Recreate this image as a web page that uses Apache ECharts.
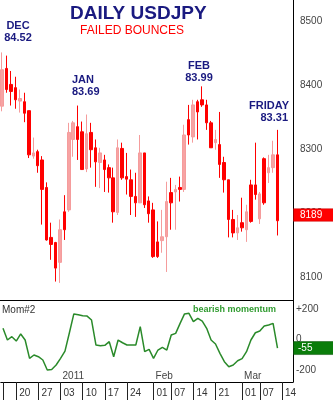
<!DOCTYPE html>
<html><head><meta charset="utf-8">
<script src="https://cdn.jsdelivr.net/npm/echarts@6/dist/echarts.min.js"></script>
<style>html,body{margin:0;padding:0;background:#fff}#c{width:333px;height:400px}</style>
</head><body><div id="c"></div>
<script>
// trading days (last three are empty future slots on the axis)
const dates = [
 '2010-12-15','2010-12-16','2010-12-17','2010-12-20','2010-12-21','2010-12-22','2010-12-23','2010-12-24','2010-12-27','2010-12-28','2010-12-29','2010-12-30','2010-12-31',
 '2011-01-03','2011-01-04','2011-01-05','2011-01-06','2011-01-07','2011-01-10','2011-01-11','2011-01-12','2011-01-13','2011-01-14','2011-01-17','2011-01-18','2011-01-19','2011-01-20','2011-01-21','2011-01-24','2011-01-25','2011-01-26','2011-01-27','2011-01-28','2011-01-31',
 '2011-02-01','2011-02-02','2011-02-03','2011-02-04','2011-02-07','2011-02-08','2011-02-09','2011-02-10','2011-02-11','2011-02-14','2011-02-15','2011-02-16','2011-02-17','2011-02-18','2011-02-21','2011-02-22','2011-02-23','2011-02-24','2011-02-25','2011-02-28',
 '2011-03-01','2011-03-02','2011-03-03','2011-03-04','2011-03-07','2011-03-08','2011-03-09','2011-03-10','2011-03-11',
 '2011-03-14','2011-03-15','2011-03-16'
];
const opens  = [83.68,84.27,84.02,83.97,83.76,83.75,83.61,82.90,82.97,82.84,82.41,81.63,81.55,81.24,82.03,82.06,83.16,83.36,83.28,82.70,83.27,83.03,82.80,82.84,82.72,82.56,82.02,83.02,82.58,82.53,82.27,82.17,82.95,82.20,82.06,81.56,81.58,81.64,82.33,82.34,82.41,82.38,83.47,83.20,83.75,83.78,83.70,83.42,83.11,83.08,82.80,82.53,81.91,81.70,81.86,81.75,82.45,82.45,81.92,82.86,82.64,82.72,82.92];
const closes = [84.25,83.94,83.91,83.78,83.80,83.57,82.92,82.95,82.75,82.38,81.59,81.52,81.15,81.75,81.75,83.27,83.42,83.16,82.69,83.25,83.00,82.81,82.95,82.69,82.56,82.03,83.03,82.56,82.54,82.27,82.17,82.95,82.14,82.00,81.33,81.33,81.64,82.19,82.17,82.38,82.38,83.23,83.23,83.70,83.59,83.70,83.42,83.03,83.16,82.77,82.53,81.91,81.70,81.78,81.78,82.03,81.88,82.30,82.31,82.17,82.72,82.92,81.89];
const lows   = [83.60,83.89,83.69,83.64,83.58,83.43,82.87,82.86,82.64,81.83,81.58,81.28,80.94,80.92,81.59,82.03,82.89,82.84,82.69,82.65,82.72,82.42,82.40,82.34,82.33,81.86,81.98,82.53,82.30,81.98,81.95,82.17,82.09,81.86,81.31,81.31,81.39,81.09,81.75,81.75,82.19,82.34,83.08,83.11,83.16,83.67,83.31,83.03,83.00,82.56,82.33,81.63,81.63,81.59,81.72,81.56,81.86,82.22,81.84,82.14,82.48,82.64,81.66];
const highs  = [84.52,84.47,84.23,84.14,83.94,83.89,83.61,83.19,83.00,82.90,82.49,81.86,81.56,81.91,82.29,83.42,83.45,83.69,83.44,83.55,83.42,83.16,83.03,82.92,82.77,82.72,83.16,83.11,82.95,82.69,82.64,83.23,82.95,82.27,82.17,81.88,82.06,82.50,82.56,82.45,82.58,83.39,83.70,83.78,83.78,83.99,83.78,83.45,83.31,83.59,82.89,82.53,82.06,81.98,82.25,82.14,82.53,83.11,82.34,82.88,82.92,83.14,83.31];
const momentum = [75,-2,20,-9,38,-2,-123,-101,-112,-134,-200,-196,-167,-123,-75,46,170,165,158,156,130,-35,-40,-37,-13,-112,-2,-20,-35,-35,-35,86,-79,-64,-123,-68,-50,-68,31,42,108,170,174,119,141,123,75,-2,-28,-90,-145,-178,-167,-139,-125,-79,-2,46,57,90,97,108,-55];
const priceTicks = [81,82,83,84,85];
const momTicks = [-200,0,200];
const dayTicks = ['2010-12-15','2010-12-20','2010-12-27','2011-01-03','2011-01-10','2011-01-17','2011-01-24','2011-02-01','2011-02-07','2011-02-14','2011-02-21','2011-03-01','2011-03-07','2011-03-14'];
const unlabeledDayTicks = ['2010-12-15'];
const monthTicks = {'2011-01-03':'2011','2011-02-01':'Feb','2011-03-01':'Mar'};
const titleText = 'DAILY USDJPY';
const subtitleText = 'FAILED BOUNCES';
const notes = [['DEC','84.52'],['JAN','83.69'],['FEB','83.99'],['FRIDAY','83.31']];
const momName = 'Mom#2';
const momNote = 'bearish momentum';

const candles = opens.map((o,i)=>[o, closes[i], lows[i], highs[i]]);
const FONT = '"Liberation Sans", Arial, sans-serif';
const NAVY = '#1a1a80';

const chart = echarts.init(document.getElementById('c'));
const dayIdx = new Set(dayTicks.map(d=>dates.indexOf(d)));
const monthIdx = new Set(Object.keys(monthTicks).map(d=>dates.indexOf(d)));

chart.setOption({
  animation:false,
  backgroundColor:'#fff',
  grid:[
    {left:0, top:0, width:293, height:300},
    {left:0, top:300, width:293, height:82}
  ],
  xAxis:[
    {gridIndex:0, type:'category', data:dates, boundaryGap:true,
     axisLine:{show:true, onZero:false, lineStyle:{color:'#000', width:1}}, axisTick:{show:false}, axisLabel:{show:false}, splitLine:{show:false}},
    {gridIndex:1, type:'category', data:dates, boundaryGap:true, position:'bottom',
     axisLine:{show:true, onZero:false, lineStyle:{color:'#000', width:1}}, axisTick:{show:false}, splitLine:{show:false},
     axisLabel:{show:true, inside:true, margin:1, align:'left', padding:[0,0,0,2], color:'#444', fontSize:10, fontFamily:FONT,
       interval:(i)=>monthIdx.has(i), formatter:(v)=>monthTicks[v]||''}},
    {gridIndex:1, type:'category', data:dates, boundaryGap:true, position:'bottom',
     axisLine:{show:false, onZero:false}, splitLine:{show:false},
     axisTick:{show:true, alignWithLabel:true, length:18, interval:(i)=>dayIdx.has(i), lineStyle:{color:'#222', width:1}},
     axisLabel:{show:true, margin:6, align:'left', padding:[0,0,0,3], color:'#333', fontSize:10, fontFamily:FONT,
       interval:(i)=>dayIdx.has(i), formatter:(v)=>unlabeledDayTicks.includes(v)?'':v.slice(8)}}
  ],
  yAxis:[
    {gridIndex:0, type:'value', position:'right', min:80.652, max:85.339, scale:true,
     axisLine:{show:true, onZero:false, lineStyle:{color:'#000', width:1}}, axisTick:{show:false}, splitLine:{show:false},
     axisLabel:{customValues:priceTicks, margin:7, color:'#444', fontSize:10, fontFamily:FONT, formatter:(v)=>String(Math.round(v*100))}},
    {gridIndex:1, type:'value', position:'right', min:-279, max:262,
     axisLine:{show:true, onZero:false, lineStyle:{color:'#000', width:1}}, axisTick:{show:false}, splitLine:{show:false},
     axisLabel:{customValues:momTicks, margin:3, color:'#444', fontSize:10, fontFamily:FONT, formatter:(v)=>v>0?'+'+v:String(v)}}
  ],
  series:[
    {type:'candlestick', xAxisIndex:0, yAxisIndex:0, data:candles, barWidth:3,
     itemStyle:{color:'#f7a3a3', color0:'#ff0000', borderColor:'#f59c9c', borderColor0:'#ff0000', borderWidth:1}},
    {type:'line', xAxisIndex:1, yAxisIndex:1, data:momentum, showSymbol:false, smooth:false,
     lineStyle:{color:'#2a8a2a', width:1.5}}
  ]
});

const last = closes.length-1;
const yClose = chart.convertToPixel({yAxisIndex:0}, closes[last]);
const yMom = chart.convertToPixel({yAxisIndex:1}, momentum[last]);
const t = (text,x,y,font,fill,align)=>({type:'text', z:100, style:{text, x, y, font, fill, textAlign:align||'left', textVerticalAlign:'middle'}});
chart.setOption({graphic:[
  t(titleText, 70, 14, 'bold 19px '+FONT, NAVY),
  t(subtitleText, 80, 31, '12px '+FONT, '#ff0000'),
  t(notes[0][0], 18, 26, 'bold 11px '+FONT, NAVY, 'center'),
  t(notes[0][1], 18, 38, 'bold 11px '+FONT, NAVY, 'center'),
  t(notes[1][0], 72, 80, 'bold 11px '+FONT, NAVY),
  t(notes[1][1], 72, 92, 'bold 11px '+FONT, NAVY),
  t(notes[2][0], 199, 66, 'bold 11px '+FONT, NAVY, 'center'),
  t(notes[2][1], 199, 78, 'bold 11px '+FONT, NAVY, 'center'),
  t(notes[3][0], 289, 106, 'bold 11px '+FONT, NAVY, 'right'),
  t(notes[3][1], 288, 118, 'bold 11px '+FONT, NAVY, 'right'),
  t(momName, 2, 310, '10px '+FONT, '#333'),
  t(momNote, 276, 310, 'bold 9px '+FONT, '#2e9a2e', 'right'),
  {type:'rect', z:99, shape:{x:293.5, y:yClose-12, width:40, height:12.5}, style:{fill:'#ff0000', stroke:'#c00000', lineWidth:0.5}},
  t(String(Math.round(closes[last]*100)), 300, yClose-5.5, '10px '+FONT, '#fff'),
  {type:'rect', z:99, shape:{x:293.5, y:yMom-6.5, width:40, height:13}, style:{fill:'#0a7d0a', stroke:'#064d06', lineWidth:0.5}},
  t(String(momentum[last]), 298, yMom, '10px '+FONT, '#fff')
]});
</script></body></html>
